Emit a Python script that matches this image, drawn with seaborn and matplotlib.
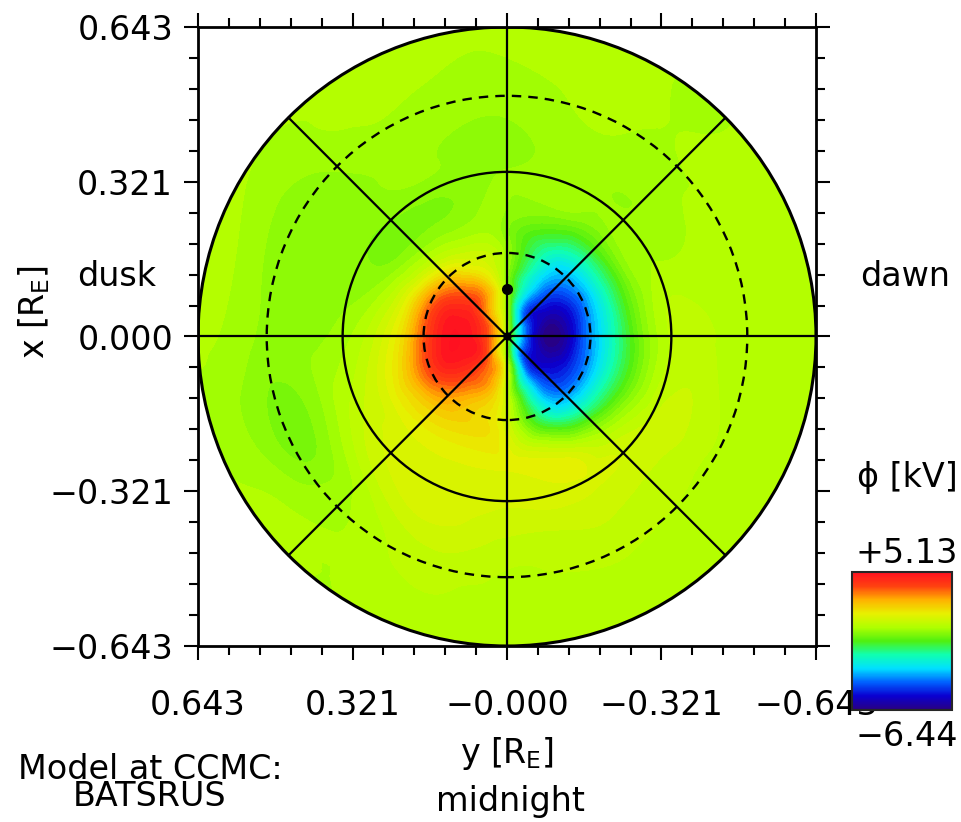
import numpy as np
import matplotlib
matplotlib.use('Agg')
import matplotlib.pyplot as plt
import matplotlib.tri as mtri
from matplotlib.patches import Circle
from matplotlib.colors import Normalize
from matplotlib.cm import ScalarMappable
import seaborn as sns

# ==========================================
# data
# ==========================================
# rings as r = sin(colatitude) [R_E], magnetic local time in hours
ring_r = [0.05, 0.10, 0.15, 0.20, 0.27, 0.35, 0.45, 0.55, 0.643, 0.72]
mlt_hours = [0, 2, 4, 6, 8, 10, 12, 14, 16, 18, 20, 22]
center_kv = 0.3
# potential [kV], one row per ring, one column per MLT
potential_kv = [
    [0.5, -3.5, -4.8, -5.0, -4.5, -3.2, 0.3, 2.2, 3.8, 4.2, 4.0, 2.6],
    [0.8, -3.8, -5.6, -6.44, -5.6, -3.4, 0.2, 3.2, 4.7, 5.13, 4.8, 3.4],
    [1.0, -3.0, -4.6, -4.7, -4.6, -2.8, 0.2, 2.0, 4.0, 4.5, 4.4, 2.6],
    [1.3, -1.6, -2.8, -2.7, -2.8, -2.0, 0.1, 0.9, 2.0, 2.6, 3.0, 2.2],
    [1.5, 1.0, -0.3, -0.4, -0.3, -0.2, 0.2, 0.0, 0.2, 1.0, 1.5, 1.5],
    [1.2, 1.3, 1.0, 0.8, 0.4, 0.3, 0.2, 0.1, 0.0, 0.3, 0.9, 1.4],
    [0.8, 0.9, 0.8, 0.6, 0.5, 0.4, 0.2, 0.3, 0.0, 0.1, 0.0, 0.9],
    [0.6, 0.6, 0.6, 0.5, 0.5, 0.5, 0.4, 0.5, 0.2, 0.3, 0.2, 0.6],
    [0.5, 0.5, 0.5, 0.5, 0.5, 0.5, 0.5, 0.5, 0.5, 0.5, 0.5, 0.5],
    [0.5, 0.5, 0.5, 0.5, 0.5, 0.5, 0.5, 0.5, 0.5, 0.5, 0.5, 0.5],
]
phi_min, phi_max = -6.44, 5.13
pole_y, pole_x = [0.0], [0.0996]

# latitude circles (80, 70, 60, 50 deg)
grid_r = [0.1736, 0.342, 0.5, 0.643]
grid_dashed = [True, False, True, False]
lim = 0.643
major_ticks = [0.643, 0.321, 0.0, -0.321, -0.643]
ylabels = ['0.643', '0.321', '0.000', '\u22120.321', '\u22120.643']
xlabels = ['0.643', '0.321', '\u22120.000', '\u22120.321', '\u22120.643']

# ==========================================
# style
# ==========================================
sns.set_style('ticks')
plt.rcParams['font.family'] = ['DejaVu Sans']
plt.rcParams['mathtext.default'] = 'regular'
plt.rcParams['text.color'] = 'k'
plt.rc('font', size=24)

cmap = sns.blend_palette(['#2a0080', '#0a00d0', '#0060ff', '#00e0ff', '#10ffb0',
                          '#50f010', '#b0ff00', '#e8f000', '#ffb000', '#ff4010',
                          '#ff1020'], as_cmap=True)

# ==========================================
# field
# ==========================================
ang = np.deg2rad(np.array(mlt_hours) * 15.0)
R, A = np.meshgrid(ring_r, ang, indexing='ij')
py = np.concatenate([[0.0], (-R * np.sin(A)).ravel()])
px = np.concatenate([[0.0], (-R * np.cos(A)).ravel()])
pz = np.concatenate([[center_kv], np.array(potential_kv).ravel()])

tri = mtri.Triangulation(py, px)
tri_f, z_f = mtri.UniformTriRefiner(tri).refine_field(pz, subdiv=4)

fig = plt.figure(figsize=(9.62, 8.22), dpi=100)
ax = fig.add_axes([198 / 962, 1 - 646 / 822, 618 / 962, 619 / 822])

levels = np.linspace(phi_min, phi_max, 48)
cf = ax.tricontourf(tri_f, z_f, levels=levels, cmap=cmap, extend='both')
cf.set_clip_path(Circle((0, 0), lim, transform=ax.transData))

for r, dashed in zip(grid_r, grid_dashed):
    ax.add_patch(Circle((0, 0), r, fill=False, ec='k',
                        lw=1.7 if r < lim else 2.2,
                        ls=(0, (4, 3)) if dashed else '-'))
for deg in [0, 45, 90, 135]:
    c, s = np.cos(np.deg2rad(deg)), np.sin(np.deg2rad(deg))
    ax.plot([-lim * c, lim * c], [-lim * s, lim * s], c='k', lw=1.6)
ax.plot(pole_y, pole_x, 'o', c='k', ms=7)
ax.plot([0], [0], 'o', c='k', ms=5)

ax.set_xlim(lim, -lim)
ax.set_ylim(-lim, lim)
ax.set_aspect('auto')
ax.set_xticks(major_ticks)
ax.set_xticklabels(xlabels)
ax.set_yticks(major_ticks)
ax.set_yticklabels(ylabels)
minor = [i * 0.0643 for i in range(-10, 11) if i % 5]
ax.set_xticks(minor, minor=True)
ax.set_yticks(minor, minor=True)
ax.tick_params(which='both', direction='out', top=True, right=True, width=1.5,
               colors='k', labelsize=24)
ax.tick_params(which='major', length=10)
ax.tick_params(which='minor', length=6.5)
ax.tick_params(axis='x', which='major', pad=21)
ax.tick_params(axis='y', which='major', pad=8)
for sp in ax.spines.values():
    sp.set_linewidth(2)
    sp.set_color('k')

# colour bar
cax = fig.add_axes([852 / 962, 1 - 710 / 822, 100 / 962, 138 / 822])
cb = fig.colorbar(ScalarMappable(norm=Normalize(phi_min, phi_max), cmap=cmap), cax=cax)
cb.set_ticks([])
cb.outline.set_linewidth(1.5)

# annotations
fig.text(0.036, 0.62, 'x [R$_{E}$]', rotation=90, ha='center', va='center')
fig.text(117 / 962, 1 - 277 / 822, 'dusk', ha='center', va='center')
fig.text(905 / 962, 1 - 277 / 822, 'dawn', ha='center', va='center')
fig.text(907 / 962, 1 - 477 / 822, '\u03d5 [kV]', ha='center', va='center')
fig.text(907 / 962, 1 - 553 / 822, '+5.13', ha='center', va='center')
fig.text(907 / 962, 1 - 736 / 822, '\u22126.44', ha='center', va='center')
fig.text(507 / 962, 1 - 753 / 822, 'y [R$_{E}$]', ha='center', va='center')
fig.text(510 / 962, 1 - 801 / 822, 'midnight', ha='center', va='center')
fig.text(150 / 962, 1 - 806 / 822, 'Model at CCMC:\nBATSRUS', ha='center', va='baseline',
         multialignment='center', linespacing=0.78)

fig.savefig('out.png', dpi=100)
